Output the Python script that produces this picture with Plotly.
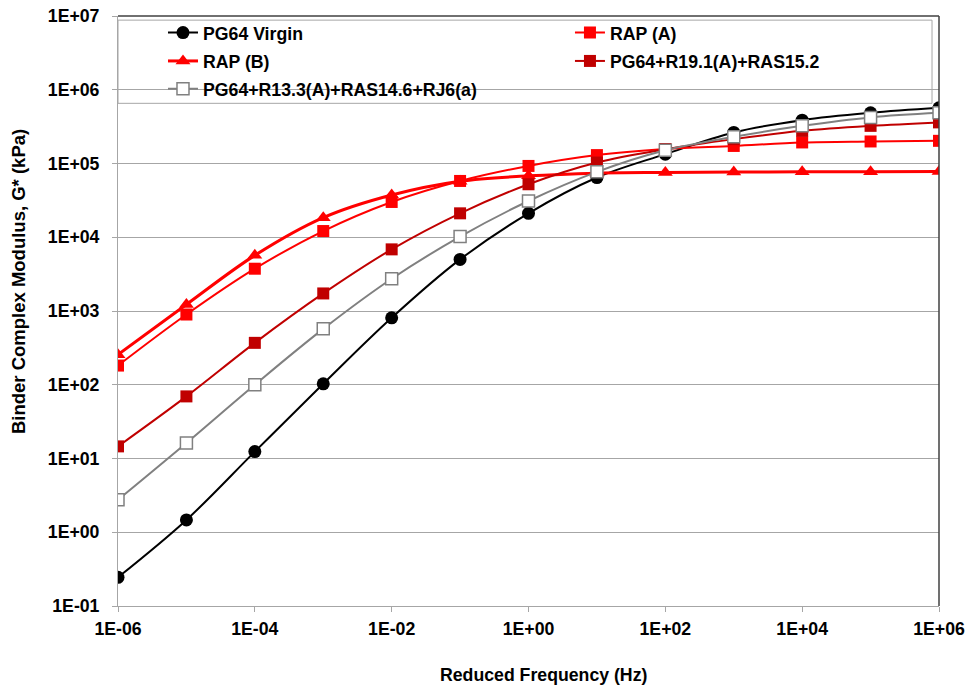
import plotly.graph_objects as go

# Reduced frequency (Hz) at which each binder was evaluated
freq_hz = [1e-6, 1e-5, 1e-4, 1e-3, 1e-2, 1e-1, 1e0, 1e1, 1e2, 1e3, 1e4, 1e5, 1e6]

# Binder complex modulus |G*| in kPa
g_pg64_virgin = [0.245, 1.47, 12.4, 103, 809, 5010, 21100, 64500, 134000, 264000, 387000, 486000, 568000]
g_rap_a = [182, 896, 3745, 12140, 30100, 58000, 92700, 130000, 157000, 173000, 193000, 199000, 203000]
g_rap_b = [256, 1225, 5680, 18450, 37400, 57500, 68000, 74000, 75500, 76500, 77000, 77500, 77900]
g_r191_ras152 = [14.6, 69.5, 370, 1730, 6850, 21100, 52300, 103000, 156000, 214000, 277000, 324000, 361000]
g_r133_ras146_rj6 = [2.75, 16.2, 100, 573, 2737, 10200, 31000, 77000, 151000, 230000, 324000, 422000, 486000]

series_names = [
    "PG64 Virgin",
    "RAP (A)",
    "RAP (B)",
    "PG64+R19.1(A)+RAS15.2",
    "PG64+R13.3(A)+RAS14.6+RJ6(a)",
]

# Axis ticks
x_tick_vals = [1e-6, 1e-4, 1e-2, 1e0, 1e2, 1e4, 1e6]
x_tick_text = ["1E-06", "1E-04", "1E-02", "1E+00", "1E+02", "1E+04", "1E+06"]
y_tick_vals = [1e-1, 1e0, 1e1, 1e2, 1e3, 1e4, 1e5, 1e6, 1e7]
y_tick_text = ["1E-01", "1E+00", "1E+01", "1E+02", "1E+03", "1E+04", "1E+05", "1E+06", "1E+07"]

FONT = "Liberation Sans, Arial, sans-serif"
GRID = "#a6a6a6"
FS = 17.7

styles = [
    dict(values=g_pg64_virgin, line=dict(color="#000000", width=2),
         marker=dict(symbol="circle", size=13, color="#000000"),
         legend="legend", lx=0.0548, ly=0.971),
    dict(values=g_rap_a, line=dict(color="#ff0000", width=2),
         marker=dict(symbol="square", size=12, color="#ff0000"),
         legend="legend2", lx=0.5505, ly=0.971),
    dict(values=g_rap_b, line=dict(color="#ff0000", width=3),
         marker=dict(symbol="triangle-up", size=13, color="#ff0000"),
         legend="legend3", lx=0.0548, ly=0.923),
    dict(values=g_r191_ras152, line=dict(color="#c00000", width=2),
         marker=dict(symbol="square", size=12, color="#c00000"),
         legend="legend4", lx=0.5505, ly=0.923),
    dict(values=g_r133_ras146_rj6, line=dict(color="#808080", width=2),
         marker=dict(symbol="square", size=12, color="#ffffff",
                     line=dict(color="#808080", width=1.5)),
         legend="legend5", lx=0.0548, ly=0.876),
]

fig = go.Figure()
for name, st in zip(series_names, styles):
    fig.add_trace(go.Scatter(
        x=freq_hz, y=st["values"], name=name, mode="lines+markers",
        line=dict(shape="spline", smoothing=1, **st["line"]),
        marker=st["marker"], legend=st["legend"], showlegend=True,
    ))

legend_layout = {}
for st in styles:
    legend_layout[st["legend"]] = dict(
        x=st["lx"], y=st["ly"], xanchor="left", yanchor="middle",
        bgcolor="rgba(0,0,0,0)", borderwidth=0,
        font=dict(family=FONT, size=FS, color="#000000", weight="bold"),
    )

fig.update_layout(
    width=967, height=688,
    margin=dict(l=118, r=28, t=16, b=82),
    paper_bgcolor="white", plot_bgcolor="white",
    showlegend=True,
    font=dict(family=FONT, size=FS, color="#000000"),
    **legend_layout,
    xaxis=dict(
        type="log", range=[-6, 6], automargin=False,
        tickvals=x_tick_vals, ticktext=x_tick_text,
        tickfont=dict(family=FONT, size=FS, weight="bold"),
        ticks="outside", ticklen=5, tickcolor=GRID, tickwidth=1,
        showgrid=False, showline=True, linecolor=GRID, linewidth=1,
        ticklabelstandoff=2,
    ),
    yaxis=dict(
        type="log", range=[-1, 7], automargin=False,
        tickvals=y_tick_vals, ticktext=y_tick_text,
        tickfont=dict(family=FONT, size=FS, weight="bold"),
        ticks="outside", ticklen=5, tickcolor=GRID, tickwidth=1,
        showgrid=True, gridcolor=GRID, gridwidth=1,
        showline=True, linecolor=GRID, linewidth=1,
        ticklabelstandoff=9,
    ),
    shapes=[
        # legend panel
        dict(type="rect", xref="paper", yref="paper",
             x0=0, x1=0.9915, y0=0.852, y1=0.993,
             fillcolor="white", line=dict(color=GRID, width=1), layer="between"),
        # dark top and right frame of the plot area
        dict(type="line", xref="paper", yref="paper", x0=0, x1=1, y0=1, y1=1,
             line=dict(color="#404040", width=1.5)),
        dict(type="line", xref="paper", yref="paper", x0=1, x1=1, y0=0, y1=1,
             line=dict(color="#404040", width=1.5)),
    ],
    annotations=[
        dict(text="Reduced Frequency (Hz)", xref="paper", yref="paper",
             x=0.518, y=-0.117, xanchor="center", yanchor="middle",
             showarrow=False, font=dict(family=FONT, size=FS, weight="bold")),
        dict(text="Binder Complex Modulus, G* (kPa)", xref="paper", yref="paper",
             x=-0.1218, y=0.549, xanchor="center", yanchor="middle", textangle=-90,
             showarrow=False, font=dict(family=FONT, size=18.5, weight="bold")),
    ],
)

fig.write_html("out.html")
